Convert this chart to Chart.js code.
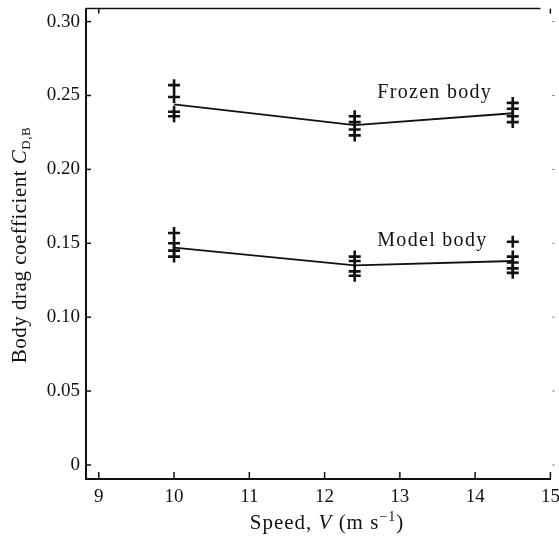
<!DOCTYPE html>
<html>
<head>
<meta charset="utf-8">
<script src="https://cdn.jsdelivr.net/npm/chart.js@4.4.1/dist/chart.umd.min.js"></script>
<style>
  html, body { margin: 0; padding: 0; background: #fff; }
  #wrap { width: 559px; height: 539px; }
</style>
</head>
<body>
<div id="wrap"><canvas id="dragChart" width="559" height="539"></canvas></div>
<script>
// Speeds where the runs were made (m/s)
const speeds = [10, 12.4, 14.5];

// Mean drag coefficient at each speed (the joined lines)
const frozenMean = [0.244, 0.230, 0.238];
const modelMean = [0.147, 0.135, 0.138];

// Individual runs at each speed (plotted as crosses)
const frozenRuns = [
    [0.257, 0.249, 0.239, 0.236],
    [0.236, 0.232, 0.227, 0.223],
    [0.245, 0.241, 0.236, 0.232]
];
const modelRuns = [
    [0.157, 0.150, 0.145, 0.141],
    [0.141, 0.138, 0.131, 0.128],
    [0.151, 0.141, 0.137, 0.133, 0.130]
];

// Axis ticks
const xTicks = [9, 10, 11, 12, 13, 14, 15];
const yTicks = [0, 0.05, 0.10, 0.15, 0.20, 0.25, 0.30];

// Curve labels (text + where they sit, in data units)
const curveLabels = ['Frozen body', 'Model body'];
const labelX = [12.7, 12.7];
const labelY = [0.252, 0.152];

const serif = '"Liberation Serif", "DejaVu Serif", serif';
const ink = '#111';

// turn [speed] + [[runs]] into scatter points
function runPoints(runs) {
    const pts = [];
    runs.forEach((list, i) => list.forEach(v => pts.push({ x: speeds[i], y: v })));
    return pts;
}

function meanPoints(means) {
    return means.map((v, i) => ({ x: speeds[i], y: v }));
}

// draws inward ticks, top/right frame, curve labels and the axis titles
const framePlugin = {
    id: 'frame',
    afterDraw(chart) {
        const ctx = chart.ctx;
        const area = chart.chartArea;
        const xs = chart.scales.x;
        const ys = chart.scales.y;
        ctx.save();

        // top frame line
        ctx.strokeStyle = ink;
        ctx.lineWidth = 1.5;
        ctx.beginPath();
        ctx.moveTo(area.left, area.top);
        ctx.lineTo(area.right - 10, area.top);
        ctx.stroke();

        // inward tick marks on left / bottom / top
        yTicks.forEach(v => {
            const py = ys.getPixelForValue(v);
            ctx.beginPath();
            ctx.moveTo(area.left, py);
            ctx.lineTo(area.left + 5, py);
            ctx.stroke();
        });
        xTicks.forEach(v => {
            const px = xs.getPixelForValue(v);
            ctx.beginPath();
            ctx.moveTo(px, area.bottom);
            ctx.lineTo(px, area.bottom - 7);
            ctx.stroke();
        });
        [9, 15].forEach(v => {
            const px = xs.getPixelForValue(v);
            ctx.beginPath();
            ctx.moveTo(px, area.top);
            ctx.lineTo(px, area.top + 5);
            ctx.stroke();
        });

        // faint right frame, only small tick dots survive in the scan
        ctx.strokeStyle = '#666';
        ctx.lineWidth = 1;
        yTicks.forEach(v => {
            const py = ys.getPixelForValue(v);
            ctx.beginPath();
            ctx.moveTo(area.right + 2, py);
            ctx.lineTo(area.right + 4, py);
            ctx.stroke();
        });

        // curve labels
        ctx.fillStyle = ink;
        ctx.letterSpacing = '1.3px';
        ctx.font = '20px ' + serif;
        ctx.textAlign = 'left';
        ctx.textBaseline = 'middle';
        curveLabels.forEach((t, i) => {
            ctx.fillText(t, xs.getPixelForValue(labelX[i]), ys.getPixelForValue(labelY[i]));
        });
        ctx.letterSpacing = '1px';

        // x axis title: Speed, V (m s^-1)
        const xParts = [
            { t: 'Speed, ', f: '21px ' + serif, dy: 0 },
            { t: 'V', f: 'italic 21px ' + serif, dy: 0 },
            { t: ' (m s', f: '21px ' + serif, dy: 0 },
            { t: '\u22121', f: '14px ' + serif, dy: -8 },
            { t: ')', f: '21px ' + serif, dy: 0 }
        ];
        drawParts(ctx, xParts, 327, 522);

        // y axis title: Body drag coefficient C_D,B
        ctx.save();
        ctx.translate(19, 245);
        ctx.rotate(-Math.PI / 2);
        ctx.letterSpacing = '0.5px';
        const yParts = [
            { t: 'Body drag coefficient ', f: '21px ' + serif, dy: 0 },
            { t: 'C', f: 'italic 21px ' + serif, dy: 0 },
            { t: 'D,B', f: '13px ' + serif, dy: 4 }
        ];
        drawParts(ctx, yParts, 0, 0);
        ctx.restore();

        ctx.restore();
    }
};

// write a run of text pieces centred on cx, middle at cy
function drawParts(ctx, parts, cx, cy) {
    ctx.textAlign = 'left';
    ctx.textBaseline = 'alphabetic';
    let total = 0;
    parts.forEach(p => { ctx.font = p.f; p.w = ctx.measureText(p.t).width; total += p.w; });
    let x = cx - total / 2;
    parts.forEach(p => {
        ctx.font = p.f;
        ctx.fillText(p.t, x, cy + 7 + p.dy);
        x += p.w;
    });
}

const crossStyle = {
    type: 'scatter',
    pointStyle: 'cross',
    pointRadius: 6,
    pointBorderWidth: 2.6,
    borderColor: ink,
    backgroundColor: ink,
    showLine: false
};

const lineStyle = {
    type: 'line',
    borderColor: ink,
    borderWidth: 1.8,
    pointRadius: 0,
    fill: false,
    tension: 0
};

const dragChart = new Chart(document.getElementById('dragChart').getContext('2d'), {
    type: 'scatter',
    data: {
        datasets: [
            Object.assign({ label: 'Frozen body mean', data: meanPoints(frozenMean) }, lineStyle),
            Object.assign({ label: 'Model body mean', data: meanPoints(modelMean) }, lineStyle),
            Object.assign({ label: 'Frozen body runs', data: runPoints(frozenRuns) }, crossStyle),
            Object.assign({ label: 'Model body runs', data: runPoints(modelRuns) }, crossStyle)
        ]
    },
    options: {
        responsive: false,
        animation: false,
        layout: { padding: { left: 0, right: 6, top: 8, bottom: 0 } },
        plugins: {
            legend: { display: false },
            tooltip: { enabled: false }
        },
        scales: {
            x: {
                type: 'linear',
                min: 8.83,
                max: 15,
                afterBuildTicks: scale => { scale.ticks = xTicks.map(v => ({ value: v })); },
                afterFit: scale => { scale.height = 60; scale.paddingRight = 0; scale.paddingLeft = 0; },
                grid: { drawOnChartArea: false, drawTicks: false },
                border: { display: true, color: ink, width: 2 },
                ticks: {
                    color: ink,
                    padding: 7,
                    font: { family: serif, size: 19 },
                    callback: v => String(v)
                }
            },
            y: {
                type: 'linear',
                min: -0.0095,
                max: 0.3088,
                afterBuildTicks: scale => { scale.ticks = yTicks.map(v => ({ value: v })); },
                afterFit: scale => { scale.width = 86; scale.paddingTop = 0; scale.paddingBottom = 0; },
                grid: { drawOnChartArea: false, drawTicks: false },
                border: { display: true, color: ink, width: 2 },
                ticks: {
                    color: ink,
                    padding: 6,
                    font: { family: serif, size: 19 },
                    callback: v => (v === 0 ? '0' : v.toFixed(2))
                }
            }
        }
    },
    plugins: [framePlugin]
});
</script>
</body>
</html>
